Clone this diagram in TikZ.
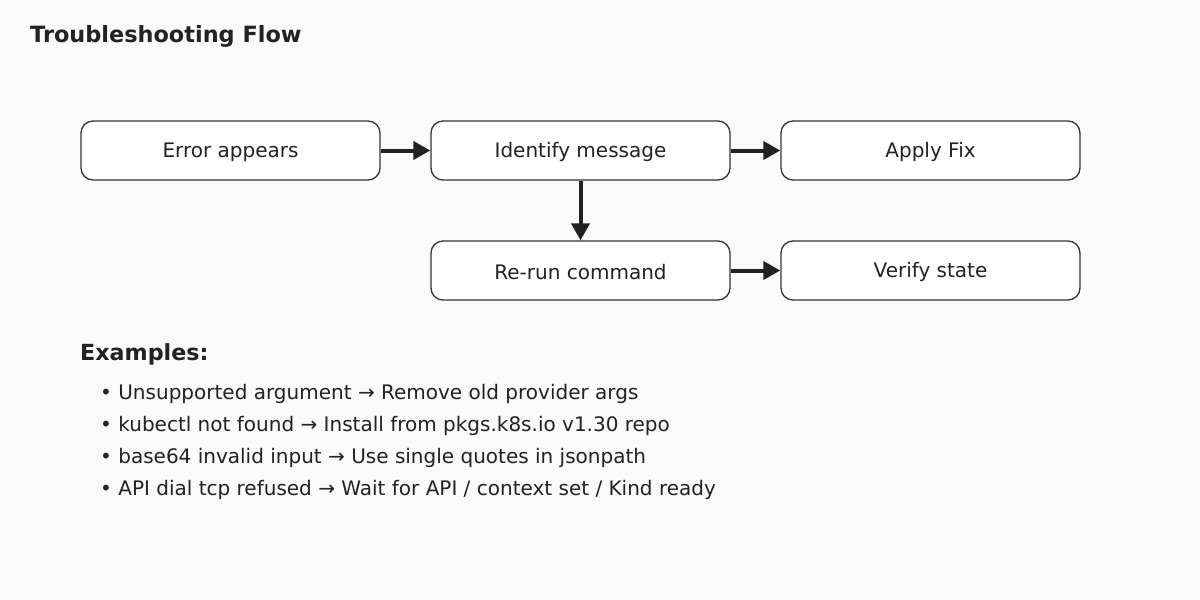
\documentclass[tikz,border=0pt]{standalone}
\usepackage{fontspec}
\setmainfont{DejaVu Sans}
\usetikzlibrary{arrows.meta}
\definecolor{bg}{HTML}{FAFAFA}
\definecolor{ink}{HTML}{222222}
\definecolor{edge}{HTML}{333333}
\newcommand\lowertxt[1]{\raisebox{-1.8pt}[\height][\depth]{#1}}
\tikzset{
  box/.style={draw=edge, fill=white, line width=1.3pt, rounded corners=12pt,
    minimum width=299pt, minimum height=59pt, inner sep=0pt, text=ink,
    font=\fontsize{20}{24}\selectfont},
  arr/.style={draw=ink, line width=4pt, -{Triangle[length=17pt,width=18pt]}},
  txt/.style={anchor=base west, inner sep=0pt, text=ink, font=\fontsize{20}{24}\selectfont},
  hdr/.style={anchor=base west, inner sep=0pt, text=ink, font=\fontsize{22.4}{26}\selectfont\bfseries}
}
\begin{document}
\begin{tikzpicture}[x=1pt,y=-1pt]
\useasboundingbox (0,0) rectangle (1200,600);
\fill[bg] (0,0) rectangle (1200,600);
\node[hdr] (title) at (30,42) {Troubleshooting Flow};
\node[box] (err) at (230.5,150.5) {\lowertxt{Error appears}};
\node[box] (idm) at (580.5,150.5) {\lowertxt{Identify message}};
\node[box] (fix) at (930.5,150.5) {\lowertxt{Apply Fix}};
\node[box] (rer) at (580.5,270.5) {\lowertxt{Re-run command}};
\node[box] (ver) at (930.5,270.5) {\lowertxt{Verify state}};
\draw[arr] (err.east) -- (idm.west);
\draw[arr] (idm.east) -- (fix.west);
\draw[arr] (idm.south) -- (rer.north);
\draw[arr] (rer.east) -- (ver.west);
\node[hdr, font=\fontsize{22.2}{26}\selectfont\bfseries] (ex) at (80,360) {Examples:};
\node[txt] (l1) at (100,399) {• Unsupported argument → Remove old provider args};
\node[txt] (l2) at (100,431) {• kubectl not found → Install from pkgs.k8s.io v1.30 repo};
\node[txt] (l3) at (100,463) {• base64 invalid input → Use single quotes in jsonpath};
\node[txt] (l4) at (100,495) {• API dial tcp refused → Wait for API / context set / Kind ready};
\end{tikzpicture}
\end{document}
